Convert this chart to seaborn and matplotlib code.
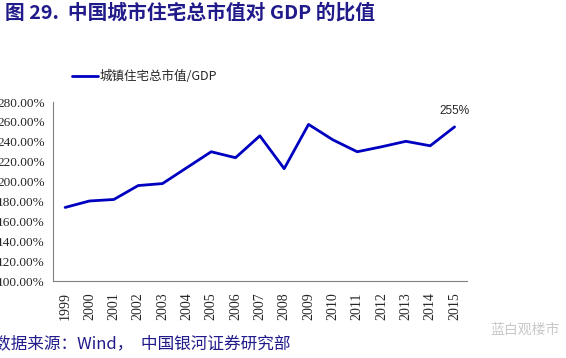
import numpy as np
import pandas as pd
import matplotlib.pyplot as plt
import seaborn as sns

# Dados
anos = ['1999', '2000', '2001', '2002', '2003', '2004', '2005', '2006', '2007',
        '2008', '2009', '2010', '2011', '2012', '2013', '2014', '2015']
razao = [174, 180.5, 182, 196, 198, 214, 230, 224, 246,
         213, 257.5, 242, 230, 235, 240.5, 236, 255]
yticks = [100, 120, 140, 160, 180, 200, 220, 240, 260, 280]
serie_nome = '城镇住宅总市值/GDP'

df = pd.DataFrame({'pos': np.arange(len(anos)), 'valor': razao, 'serie': serie_nome})

sns.set_style('white')
plt.rcParams['font.family'] = ['Noto Sans CJK SC', 'DejaVu Sans']

fig = plt.figure(figsize=(5.66, 3.58), dpi=100)
ax = fig.add_axes([0.0936, 0.215, 0.731, 0.50])

sns.lineplot(data=df, x='pos', y='valor', color='#0000c0', linewidth=2.0, ax=ax, legend=False)

ax.set_xlim(-0.5, len(anos) - 0.5)
ax.set_ylim(100, 280)
ax.set_yticks(yticks)
ax.set_yticklabels([f'{v:.2f}%' for v in yticks], family='Liberation Serif', fontsize=9.5)
ax.set_xticks(np.arange(len(anos)))
ax.set_xticklabels(anos, rotation=90, family='Liberation Serif', fontsize=10)
ax.set_xticks(np.arange(len(anos) + 1) - 0.5, minor=True)
ax.tick_params(axis='x', which='major', length=0, pad=8)
ax.tick_params(axis='x', which='minor', length=4, color='#808080', width=0.8, direction='out')
ax.tick_params(axis='y', length=4, color='#808080', width=0.8, direction='out', pad=2)
ax.set_xlabel('')
ax.set_ylabel('')
for s in ['top', 'right']:
    ax.spines[s].set_visible(False)
for s in ['left', 'bottom']:
    ax.spines[s].set_color('#808080')
    ax.spines[s].set_linewidth(0.8)

# Rotulo do ultimo ponto
ax.annotate(f'{razao[-1]:.0f}%', xy=(len(anos) - 1, razao[-1]), xytext=(0, 7),
            textcoords='offset points', ha='center', va='bottom', fontsize=8.5,
            family=['Liberation Sans'])

# Legenda
fig.add_artist(plt.Line2D([72 / 566, 98 / 566], [1 - 76 / 358, 1 - 76 / 358],
                          color='#0000c0', linewidth=2.0))
fig.text(100 / 566, 1 - 76 / 358, serie_nome, fontsize=9, va='center', ha='left')

# Titulo
fig.text(5 / 566, 1 - 13 / 358, '图 29.  中国城市住宅总市值对 GDP 的比值', fontsize=14.2,
         fontweight='bold', color='#201a8a', va='center', ha='left')

# Fonte
fig.text(-6 / 566, 1 - 344 / 358, '数据来源：Wind，  中国银河证券研究部', fontsize=12,
         color='#201a8a', va='center', ha='left')

# Marca d'agua
fig.text(490 / 566, 1 - 330 / 358, '蓝白观楼市', fontsize=10, color='#c8c8c8',
         va='center', ha='left')

fig.savefig('out.png', dpi=100)
